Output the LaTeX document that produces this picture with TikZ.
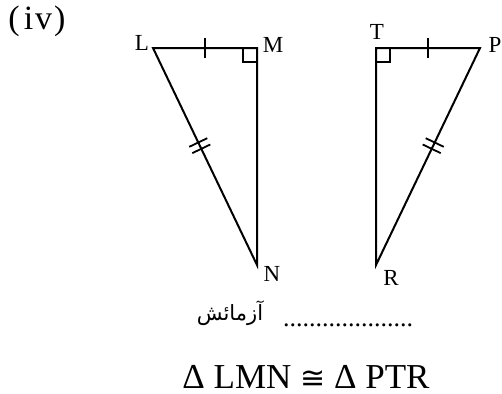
\documentclass[tikz,border=0pt]{standalone}
\usepackage{fontspec}
\setmainfont{Liberation Serif}
\newfontfamily\urdufont[Script=Arabic]{DejaVu Sans}
\newfontfamily\symfont{DejaVu Sans}
\TeXXeTstate=1

\begin{document}
\begin{tikzpicture}[
  x=0.5pt,y=0.5pt,
  side/.style={line width=1pt},
  vtx/.style={inner sep=0pt,font=\fontsize{11.5}{13}\selectfont},
  onetick/.pic={\draw[line width=0.9pt] (0,-10) -- (0,10);},
  twotick/.pic={\draw[line width=0.9pt] (-3.5,-10) -- (-3.5,10) (3.5,-10) -- (3.5,10);}
]
  \useasboundingbox (0,0) rectangle (502,393);

  \node[font=\fontsize{17}{20}\selectfont] (part) at (37,372) {(\kern2pt i\kern1pt v\kern1pt)};

  \coordinate (L) at (153,345);
  \coordinate (M) at (257,345);
  \coordinate (N) at (257,128);
  \coordinate (T) at (376,345);
  \coordinate (P) at (480,345);
  \coordinate (R) at (376,128);

  \node[vtx] (labL) at (142,350) {L};
  \node[vtx] (labM) at (273,348) {M};
  \node[vtx] (labN) at (272,119) {N};
  \node[vtx] (labT) at (377,361) {T};
  \node[vtx] (labP) at (495,348) {P};
  \node[vtx] (labR) at (391,115) {R};

  \draw[side] (L) -- (M) -- (N) -- cycle;
  \draw[side] (T) -- (P) -- (R) -- cycle;
  \draw[line width=0.8pt] ([xshift=-7pt]M) |- ([yshift=-7pt]M);
  \draw[line width=0.8pt] ([xshift=7pt]T) |- ([yshift=-7pt]T);

  \path (L) -- pic[pos=0.5,sloped]{onetick} (M);
  \path (T) -- pic[pos=0.5,sloped]{onetick} (P);
  \path (L) -- pic[pos=0.45,sloped]{twotick} (N);
  \path (P) -- pic[pos=0.45,sloped]{twotick} (R);

  \node[font=\urdufont\fontsize{10.5}{13}\selectfont] (urdu) at (230,80) {\beginR آزمائش\endR};
  \node[anchor=base,font=\fontsize{13}{15}\selectfont] (dots) at (348,67) {....................};
  \node[anchor=base,font=\fontsize{17.5}{20}\selectfont] (cong) at (306,5) {Δ LMN {\symfont\fontsize{15}{20}\selectfont ≅} Δ PTR};
\end{tikzpicture}
\end{document}
